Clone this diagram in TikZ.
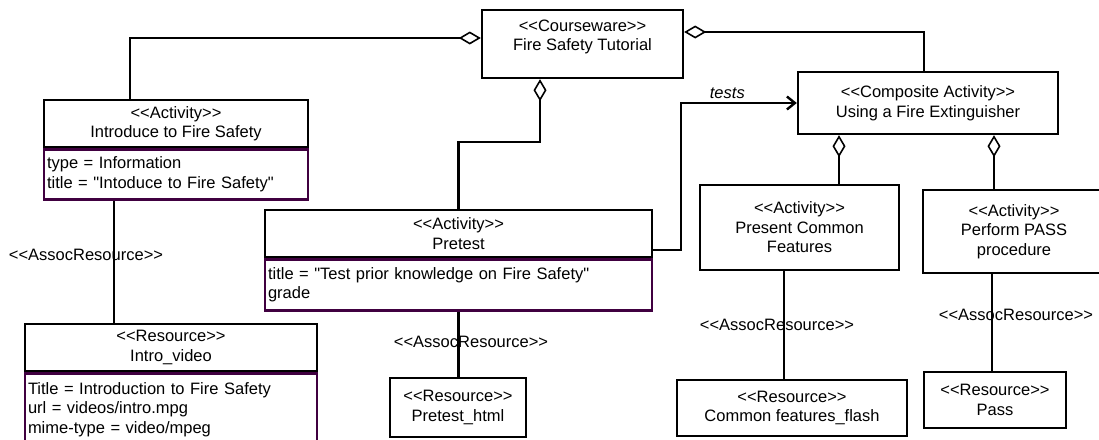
\documentclass[tikz,border=0pt]{standalone}
\usepackage{fontspec}
\setmainfont{Liberation Sans}[Ligatures=TeXOff]
\usetikzlibrary{arrows.meta}
\definecolor{attrline}{RGB}{64,0,64}

\begin{document}
\begin{tikzpicture}[x=1pt, y=-1pt, line width=2.4pt,
  font=\fontsize{16.5}{19.5}\selectfont,
  every node/.style={inner sep=3pt},
  box/.style={draw, rectangle, align=center},
  attrbox/.style={draw=attrline, rectangle, align=left},
  agg/.style={{Diamond[open, length=22pt, width=13pt, line width=1.6pt]}-},
  dep/.style={-{Straight Barb[length=8pt, width=13pt]}}]
\useasboundingbox (0,0) rectangle (1099,439);
\clip (0,0) rectangle (1099,439);

% Courseware
\node[box, minimum width=201pt, minimum height=68pt] (course) at (582.5,44) {};
\node[align=center] (coursetxt) at (582.5,37) {<<Courseware>>\\Fire Safety Tutorial};

% Composite activity
\node[box, minimum width=260pt, minimum height=62pt] (comp) at (928,103) {<<Composite Activity>>\\Using a Fire Extinguisher};

% Activities with attributes
\node[box, minimum width=264pt, minimum height=47pt] (intro) at (176,123.5) {<<Activity>>\\Introduce to Fire Safety};
\node[attrbox, text width=258pt, minimum height=50pt, anchor=north] (introattr) at (intro.south) {type = Information\\title = "Intoduce to Fire Safety"};
\node[box, minimum width=387pt, minimum height=47pt] (pretest) at (458.5,233.5) {<<Activity>>\\Pretest};
\node[attrbox, text width=381pt, minimum height=51pt, anchor=north] (pretestattr) at (pretest.south) {title = "Test prior knowledge on Fire Safety"\\grade};

% Sub-activities
\node[box, minimum width=199pt, minimum height=85pt] (present) at (799.5,227.5) {<<Activity>>\\Present Common\\Features};
\node[box, minimum width=182pt, minimum height=83pt] (perform) at (1014,231.5) {<<Activity>>\\Perform PASS\\procedure};

% Resources
\node[box, minimum width=292pt, minimum height=47pt] (video) at (171,347.5) {<<Resource>>\\Intro\_video};
\node[attrbox, text width=286pt, minimum height=72pt, anchor=north] (videoattr) at (video.south) {Title = Introduction to Fire Safety\\url = videos/intro.mpg\\mime-type = video/mpeg};
\node[box, minimum width=136pt, minimum height=59pt] (html) at (458,407.5) {<<Resource>>\\Pretest\_html};
\node[box, minimum width=230pt, minimum height=56pt] (common) at (792,408) {<<Resource>>\\Common features\_flash};
\node[box, minimum width=142pt, minimum height=56pt] (pass) at (995,400) {<<Resource>>\\Pass};

% Bends and taps
\coordinate (elbowA) at (130,38);
\coordinate (elbowB) at (924,32);
\coordinate (elbowC) at (540,142);
\coordinate (elbowD) at (681,250);
\coordinate (tapA) at (114,260);
\coordinate (tapB) at (839,160);
\coordinate (tapC) at (994,160);
\coordinate (tapD) at (784,330);
\coordinate (tapE) at (992,320);

% Aggregations
\draw[agg] (course.west |- elbowA) -| (intro.north -| elbowA);
\draw[agg] (course.east |- elbowB) -| (comp.north -| elbowB);
\draw[agg] (course.south -| elbowC) -- (elbowC) -| (pretest.north);
\draw[agg] (comp.south -| tapB) -- (present.north -| tapB);
\draw[agg] (comp.south -| tapC) -- (perform.north -| tapC);

% tests dependency
\draw[dep] (pretest.east |- elbowD) -- (elbowD) |- node[pos=0.7, above, font=\fontsize{16.5}{19.5}\selectfont\itshape] (tests) {tests} (comp.west);

% Resource associations
\draw (introattr.south -| tapA) -- (video.north -| tapA);
\draw (pretestattr.south) -- (pretestattr.south |- html.north);
\draw (present.south -| tapD) -- (common.north -| tapD);
\draw (perform.south -| tapE) -- (pass.north -| tapE);

% Association labels
\node (assocA) at (86,255) {<<AssocResource>>};
\node (assocB) at (471,342) {<<AssocResource>>};
\node (assocC) at (777,325) {<<AssocResource>>};
\node (assocD) at (1016,315) {<<AssocResource>>};

\end{tikzpicture}
\end{document}
